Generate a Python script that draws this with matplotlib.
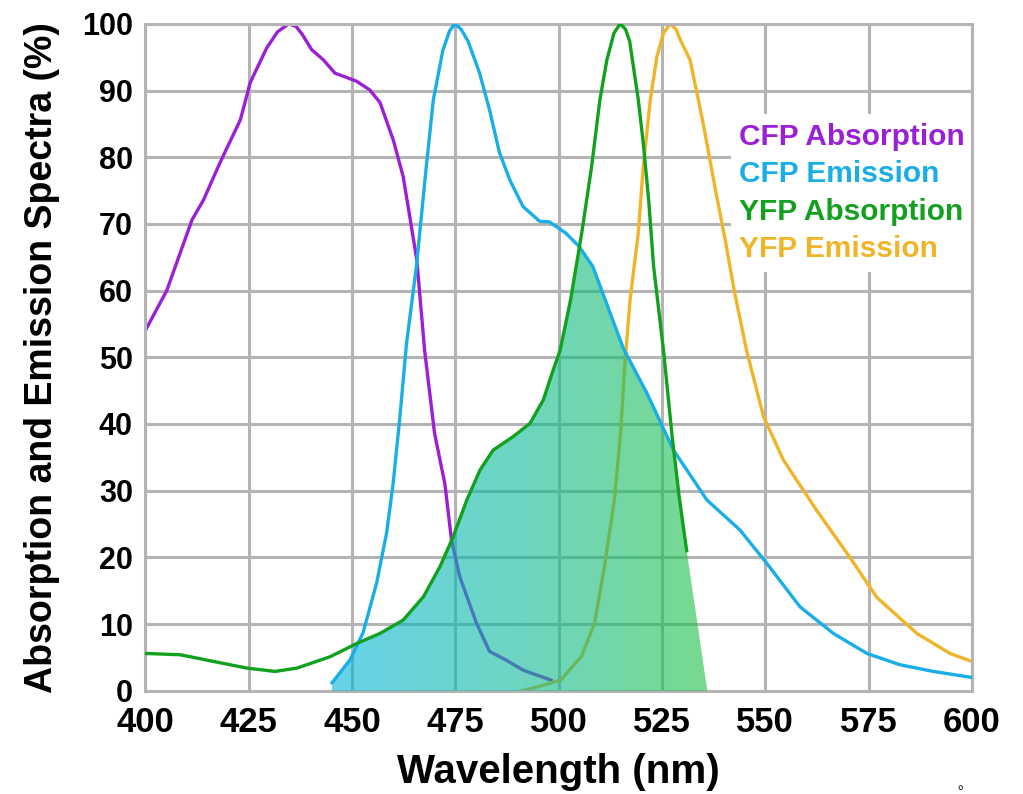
import numpy as np
import matplotlib.pyplot as plt
from matplotlib.colors import LinearSegmentedColormap
from matplotlib.patches import Polygon

plt.rcParams['font.family'] = ['Liberation Sans', 'DejaVu Sans']

# CFP absorption
cfp_abs_x = [400, 405.2, 411.3, 414.1, 418.1, 423, 425.4, 429.4, 432, 434.7, 436.5, 438, 440.3, 443.1,
             445.9, 451.1, 454.3, 456.8, 460, 462.4, 464, 465.7, 467.6, 470, 472.5, 474.1,
             476.1, 480.1, 483.3, 487.3, 491.4, 495, 498.2]
cfp_abs_y = [54, 60, 70.6, 73.6, 79.2, 85.6, 91.2, 96.4, 98.8, 100, 99.6, 98.4, 96.1, 94.6,
             92.6, 91.4, 90.1, 88.2, 82.6, 77.1, 71.1, 64.6, 51, 38.6, 31, 22.6,
             17.1, 10.2, 5.9, 4.6, 3.1, 2.3, 1.6]

# CFP emission
cfp_em_x = [445.2, 449.5, 452.7, 456, 458.4, 460, 461.6, 463.2, 465.6, 468, 469.7, 472, 473.6, 474.9,
            476.4, 478.1, 480.9, 483.3, 485.7, 488.2, 491.4, 495.4, 497.8, 501.8, 505, 508.3, 510.7,
            513.1, 515.7, 521.4, 527.8, 535.9, 543.9, 550.4, 558.4, 566.5, 574.6, 582.6, 590.7, 600]
cfp_em_y = [1.2, 4.6, 8.7, 16.2, 23.7, 31.2, 41, 52, 63.6, 78.6, 88.6, 96, 98.9, 100,
            99.2, 97.4, 92.6, 87.1, 80.7, 76.6, 72.6, 70.4, 70.3, 68.6, 66.6, 63.6, 59.6,
            55.6, 51.3, 44.6, 36.1, 28.6, 24.1, 19.1, 12.6, 8.6, 5.6, 3.9, 2.9, 2]

# YFP absorption
yfp_abs_x = [400, 408.5, 416.5, 424.6, 431.4, 436.7, 444.7, 451.2, 456.8, 462.4, 467.3, 471.3,
             474.5, 477.8, 481, 484.2, 489, 493.1, 496.3, 498.7, 500.4, 502.9, 505.6, 508, 510,
             511.7, 513.4, 514.9, 516.2, 517.2, 518.1, 519.3, 520.5, 521.8, 523, 525.4, 527.5,
             529.2, 531]
yfp_abs_y = [5.6, 5.4, 4.4, 3.4, 2.9, 3.4, 5.1, 7.1, 8.6, 10.6, 14.1, 18.6,
             23.1, 28.6, 33.1, 36.1, 38.1, 40.1, 43.6, 48.1, 51.1, 58.6, 68.6, 78.6, 88.6,
             94.6, 98.6, 100, 99.2, 97.4, 93.6, 88.6, 82.1, 73.6, 63.6, 51, 38,
             29, 21]
# where the shaded overlap runs out past the end of the YFP absorption line
yfp_abs_tail_x = [536]
yfp_abs_tail_y = [0]

# YFP emission
yfp_em_x = [491, 495, 500.5, 505.5, 508.7, 511.1, 513.5, 515, 516, 517.3, 519.3, 520.5, 522.2,
            523.8, 525.4, 527, 528.4, 529.6, 531.8, 533.5, 535, 538, 540.5, 542.5, 545.5, 549.6,
            554.4, 562.5, 570.5, 577, 586.7, 594.7, 600]
yfp_em_y = [0, 0.6, 1.6, 5.1, 10.1, 18.6, 28.6, 38.6, 48.6, 58.6, 68.7, 78.6, 88.6,
            95.1, 98.6, 100, 99.2, 97.4, 94.6, 89.6, 85, 75, 67, 60, 51, 41.1,
            34.6, 27, 20, 14, 8.6, 5.6, 4.4]

labels = ['CFP Absorption', 'CFP Emission', 'YFP Absorption', 'YFP Emission']
colors = ['#9b1fd6', '#1aaee8', '#11a11f', '#f0b428']

fig = plt.figure(figsize=(10.23, 7.94), dpi=100)
ax = fig.add_axes([0.142, 0.130, 0.808, 0.840])

ax.plot(cfp_abs_x, cfp_abs_y, color=colors[0], lw=2.4, label=labels[0], zorder=2)
ax.plot(yfp_em_x, yfp_em_y, color=colors[3], lw=2.4, label=labels[3], zorder=2)

# overlap of CFP emission and YFP absorption, shaded with a cyan -> green gradient
ya_x = np.array(yfp_abs_x + yfp_abs_tail_x)
ya_y = np.array(yfp_abs_y + yfp_abs_tail_y)
xs = np.unique(np.concatenate([cfp_em_x, ya_x]))
xs = xs[(xs >= cfp_em_x[0]) & (xs <= ya_x[-1])]
top = np.minimum(np.interp(xs, cfp_em_x, cfp_em_y), np.interp(xs, ya_x, ya_y))
verts = list(zip(xs, top)) + [(xs[-1], 0), (xs[0], 0)]
poly = Polygon(verts, closed=True, facecolor='none', edgecolor='none')
ax.add_patch(poly)
cmap = LinearSegmentedColormap.from_list('fret', ['#00b6dc', '#0cba98', '#1ec043'])
grad = np.linspace(0, 1, 256).reshape(1, -1)
im = ax.imshow(grad, cmap=cmap, extent=(xs[0], xs[-1], 0, 100), aspect='auto',
               alpha=0.6, zorder=3, interpolation='bilinear')
im.set_clip_path(poly)

ax.plot(cfp_em_x, cfp_em_y, color=colors[1], lw=2.4, label=labels[1], zorder=4)
ax.plot(yfp_abs_x, yfp_abs_y, color=colors[2], lw=2.4, label=labels[2], zorder=4)

ax.set_xlim(400, 600)
ax.set_ylim(0, 100)
ax.set_xticks(range(400, 601, 25))
ax.set_yticks(range(0, 101, 10))
ax.grid(True, color='#b4b4b4', lw=2.2)
ax.set_axisbelow(True)
for s in ax.spines.values():
    s.set_color('#b4b4b4')
    s.set_linewidth(2.2)
ax.tick_params(length=0)
ax.tick_params(axis='x', labelsize=25, pad=11)
ax.tick_params(axis='y', labelsize=22, pad=9)
for t in ax.get_xticklabels() + ax.get_yticklabels():
    t.set_fontweight('bold')
ax.set_xlabel('Wavelength (nm)', fontsize=29, fontweight='bold', labelpad=10)
ax.set_ylabel('Absorption and Emission Spectra (%)', fontsize=27, fontweight='bold', labelpad=16)

h, l = ax.get_legend_handles_labels()
order = [l.index(name) for name in labels]
leg = ax.legend([h[i] for i in order], [l[i] for i in order], loc='upper left',
                bbox_to_anchor=(0.69, 0.887), handlelength=0, handletextpad=0,
                labelcolor='linecolor', prop={'weight': 'bold', 'size': 21.5},
                frameon=True, facecolor='white', edgecolor='none', framealpha=1,
                fancybox=False, borderpad=0.3, labelspacing=0.31)
leg.set_zorder(1)
for hd in leg.legend_handles:
    hd.set_visible(False)

fig.text(0.936, 0.002, '。', fontsize=10, va='bottom', family=['Noto Sans CJK SC', 'DejaVu Sans'])

fig.savefig('out.png', dpi=100)
